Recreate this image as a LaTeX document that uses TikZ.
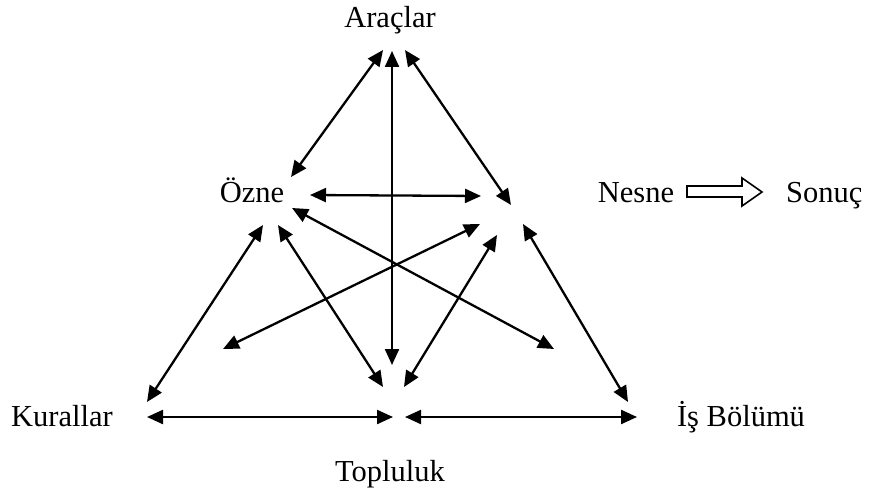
\documentclass[tikz,border=0pt]{standalone}
\usepackage{fontspec}
\setmainfont{Liberation Serif}
\usetikzlibrary{arrows.meta}
\begin{document}
\begin{tikzpicture}[x=1pt,y=-1pt,
  lbl/.style={inner sep=0pt,font=\fontsize{30.5}{36}\selectfont},
  link/.style={line width=2.3pt,{Triangle[length=16pt,width=14pt]}-{Triangle[length=16pt,width=14pt]}}]
\useasboundingbox (0,0) rectangle (870,497);
% labels
\node[lbl,anchor=base] (arac) at (390,28) {Araçlar};
\node[lbl,anchor=base] (ozne) at (252,203) {Özne};
\node[lbl,anchor=base] (nesne) at (636,203) {Nesne};
\node[lbl,anchor=base west] (sonuc) at (786,203) {Sonuç};
\node[lbl,anchor=base] (kural) at (62,426) {Kurallar};
\node[lbl,anchor=base] (is) at (741,426) {İş Bölümü};
\node[lbl,anchor=base] (topl) at (390,481) {Topluluk};
% endpoints
\coordinate (a1) at (383,50);
\coordinate (a2) at (392,51);
\coordinate (a3) at (405,50);
\coordinate (o1) at (291,177);
\coordinate (o2) at (310,195);
\coordinate (o3) at (292,208);
\coordinate (o4) at (263,225);
\coordinate (o5) at (278,225);
\coordinate (n1) at (511,205);
\coordinate (n2) at (481,196);
\coordinate (n3) at (480,224);
\coordinate (n4) at (497,235);
\coordinate (n5) at (523,224);
\coordinate (k1) at (147,402);
\coordinate (k2) at (223,349);
\coordinate (k3) at (147,417);
\coordinate (t1) at (392,365);
\coordinate (t2) at (383,387);
\coordinate (t3) at (404,387);
\coordinate (t4) at (393,417);
\coordinate (t5) at (405,417);
\coordinate (i1) at (554,349);
\coordinate (i2) at (628,402);
\coordinate (i3) at (637,417);
% connectors
\draw[link] (a1) -- (o1);
\draw[link] (a2) -- (t1);
\draw[link] (a3) -- (n1);
\draw[link] (o2) -- (n2);
\draw[link] (o3) -- (i1);
\draw[link] (k2) -- (n3);
\draw[link] (o4) -- (k1);
\draw[link] (o5) -- (t2);
\draw[link] (n4) -- (t3);
\draw[link] (n5) -- (i2);
\draw[link] (k3) -- (t4);
\draw[link] (t5) -- (i3);
% block arrow Nesne -> Sonuc
\draw[line width=1.6pt,fill=white,line join=miter] (687,186) -- (742,186) -- (742,178) -- (762,192) -- (742,206) -- (742,197) -- (687,197) -- cycle;
\end{tikzpicture}
\end{document}
